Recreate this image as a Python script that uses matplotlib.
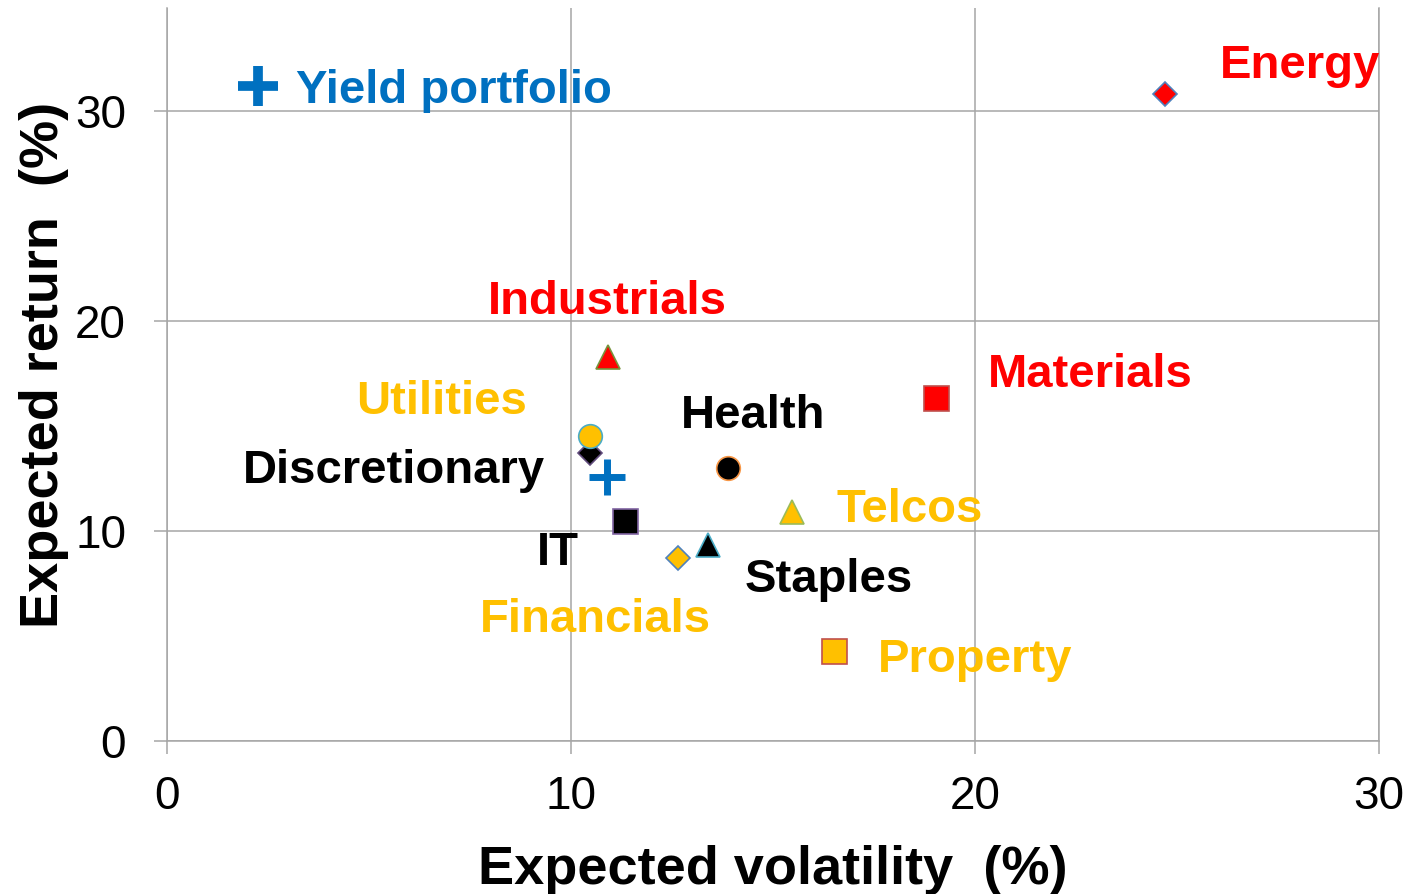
import matplotlib
matplotlib.use("Agg")
from matplotlib import pyplot as plt
from matplotlib.lines import Line2D

plt.rcParams['font.family'] = ['Liberation Sans', 'DejaVu Sans']

# data: expected volatility (%) vs expected return (%)
sectors = ['Energy', 'Materials', 'Industrials', 'Discretionary', 'Utilities',
           'Health', 'Telcos', 'IT', 'Financials', 'Staples', 'Property']
volatility = [24.70, 19.03, 10.92, 10.47, 10.47, 13.89, 15.47, 11.34, 12.65, 13.39, 16.51]
returns = [30.81, 16.33, 18.29, 13.71, 14.52, 13.00, 10.90, 10.48, 8.71, 9.33, 4.29]

portfolio_name = 'Yield portfolio'
portfolio_vol = 10.89
portfolio_ret = 12.57

x_ticks = [0, 10, 20, 30]
y_ticks = [0, 10, 20, 30]

RED = '#FF0000'
YELLOW = '#FFC000'
BLUE = '#0070C0'
BLACK = '#000000'
GRID = '#A6A6A6'

# marker style per sector: (marker, size, face, edge, label colour)
style = {
    'Energy':        ('D', 12, RED, '#4F81BD', RED),
    'Materials':     ('s', 18, RED, '#C0504D', RED),
    'Industrials':   ('^', 17, RED, '#77933C', RED),
    'Discretionary': ('D', 12, BLACK, '#604A7B', BLACK),
    'Utilities':     ('o', 17, YELLOW, '#4BACC6', YELLOW),
    'Health':        ('o', 17, BLACK, '#F79646', BLACK),
    'Telcos':        ('^', 17, YELLOW, '#9BBB59', YELLOW),
    'IT':            ('s', 18, BLACK, '#8064A2', BLACK),
    'Financials':    ('D', 12, YELLOW, '#4F81BD', YELLOW),
    'Staples':       ('^', 17, BLACK, '#4BACC6', BLACK),
    'Property':      ('s', 18, YELLOW, '#C0504D', YELLOW),
}

# where each label sits (left edge, baseline), in data units
label_at = {
    'Energy': (26.06, 31.57),
    'Materials': (20.32, 16.86),
    'Industrials': (7.95, 20.33),
    'Discretionary': (1.88, 12.29),
    'Utilities': (4.68, 15.57),
    'Health': (12.72, 14.90),
    'Telcos': (16.56, 10.43),
    'IT': (9.16, 8.38),
    'Financials': (7.75, 5.19),
    'Staples': (14.31, 7.10),
    'Property': (17.60, 3.29),
}

fig = plt.figure(figsize=(14.12, 8.94), dpi=100)
ax = fig.add_axes([0.1183, 0.1711, 0.8583, 0.8199])

for name, x, y in zip(sectors, volatility, returns):
    m, ms, fc, ec, tc = style[name]
    ax.plot([x], [y], linestyle='none', marker=m, markersize=ms,
            markerfacecolor=fc, markeredgecolor=ec, markeredgewidth=1.2, zorder=3)
    lx, ly = label_at[name]
    ax.text(lx, ly, name, color=tc, fontsize=34, fontweight='bold',
            ha='left', va='baseline', zorder=4)

ax.plot([portfolio_vol], [portfolio_ret], linestyle='none', marker='+',
        markersize=26, markeredgewidth=5, color=BLUE, zorder=3)

handle = Line2D([], [], linestyle='none', marker='+', markersize=29,
                markeredgewidth=7, color=BLUE)
ax.legend([handle], [portfolio_name], loc='center left',
          bbox_to_anchor=(0.0557, 0.887), frameon=False,
          prop={'weight': 'bold', 'size': 34}, labelcolor=BLUE,
          handlelength=1.0, handletextpad=0.3, borderpad=0, borderaxespad=0)

ax.set_xlim(0, 30)
ax.set_ylim(0, 34.9)
ax.set_xticks(x_ticks)
ax.set_yticks(y_ticks)
ax.grid(True, color=GRID, linewidth=1.1)
ax.set_axisbelow(True)
ax.spines['top'].set_visible(False)
for side in ['left', 'bottom', 'right']:
    ax.spines[side].set_color(GRID)
    ax.spines[side].set_linewidth(1.1)
ax.tick_params(axis='both', direction='out', length=9.5, width=1.1,
               color=GRID, labelsize=33)
ax.tick_params(axis='y', pad=20)
ax.tick_params(axis='x', pad=15)

ax.set_xlabel('Expected volatility  (%)', fontsize=39, fontweight='bold', va='center')
ax.xaxis.set_label_coords(0.5, -0.176)
ax.set_ylabel('Expected return  (%)', fontsize=39, fontweight='bold', va='center')
ax.yaxis.set_label_coords(-0.1015, 0.513)

fig.savefig('out.png', dpi=100)
